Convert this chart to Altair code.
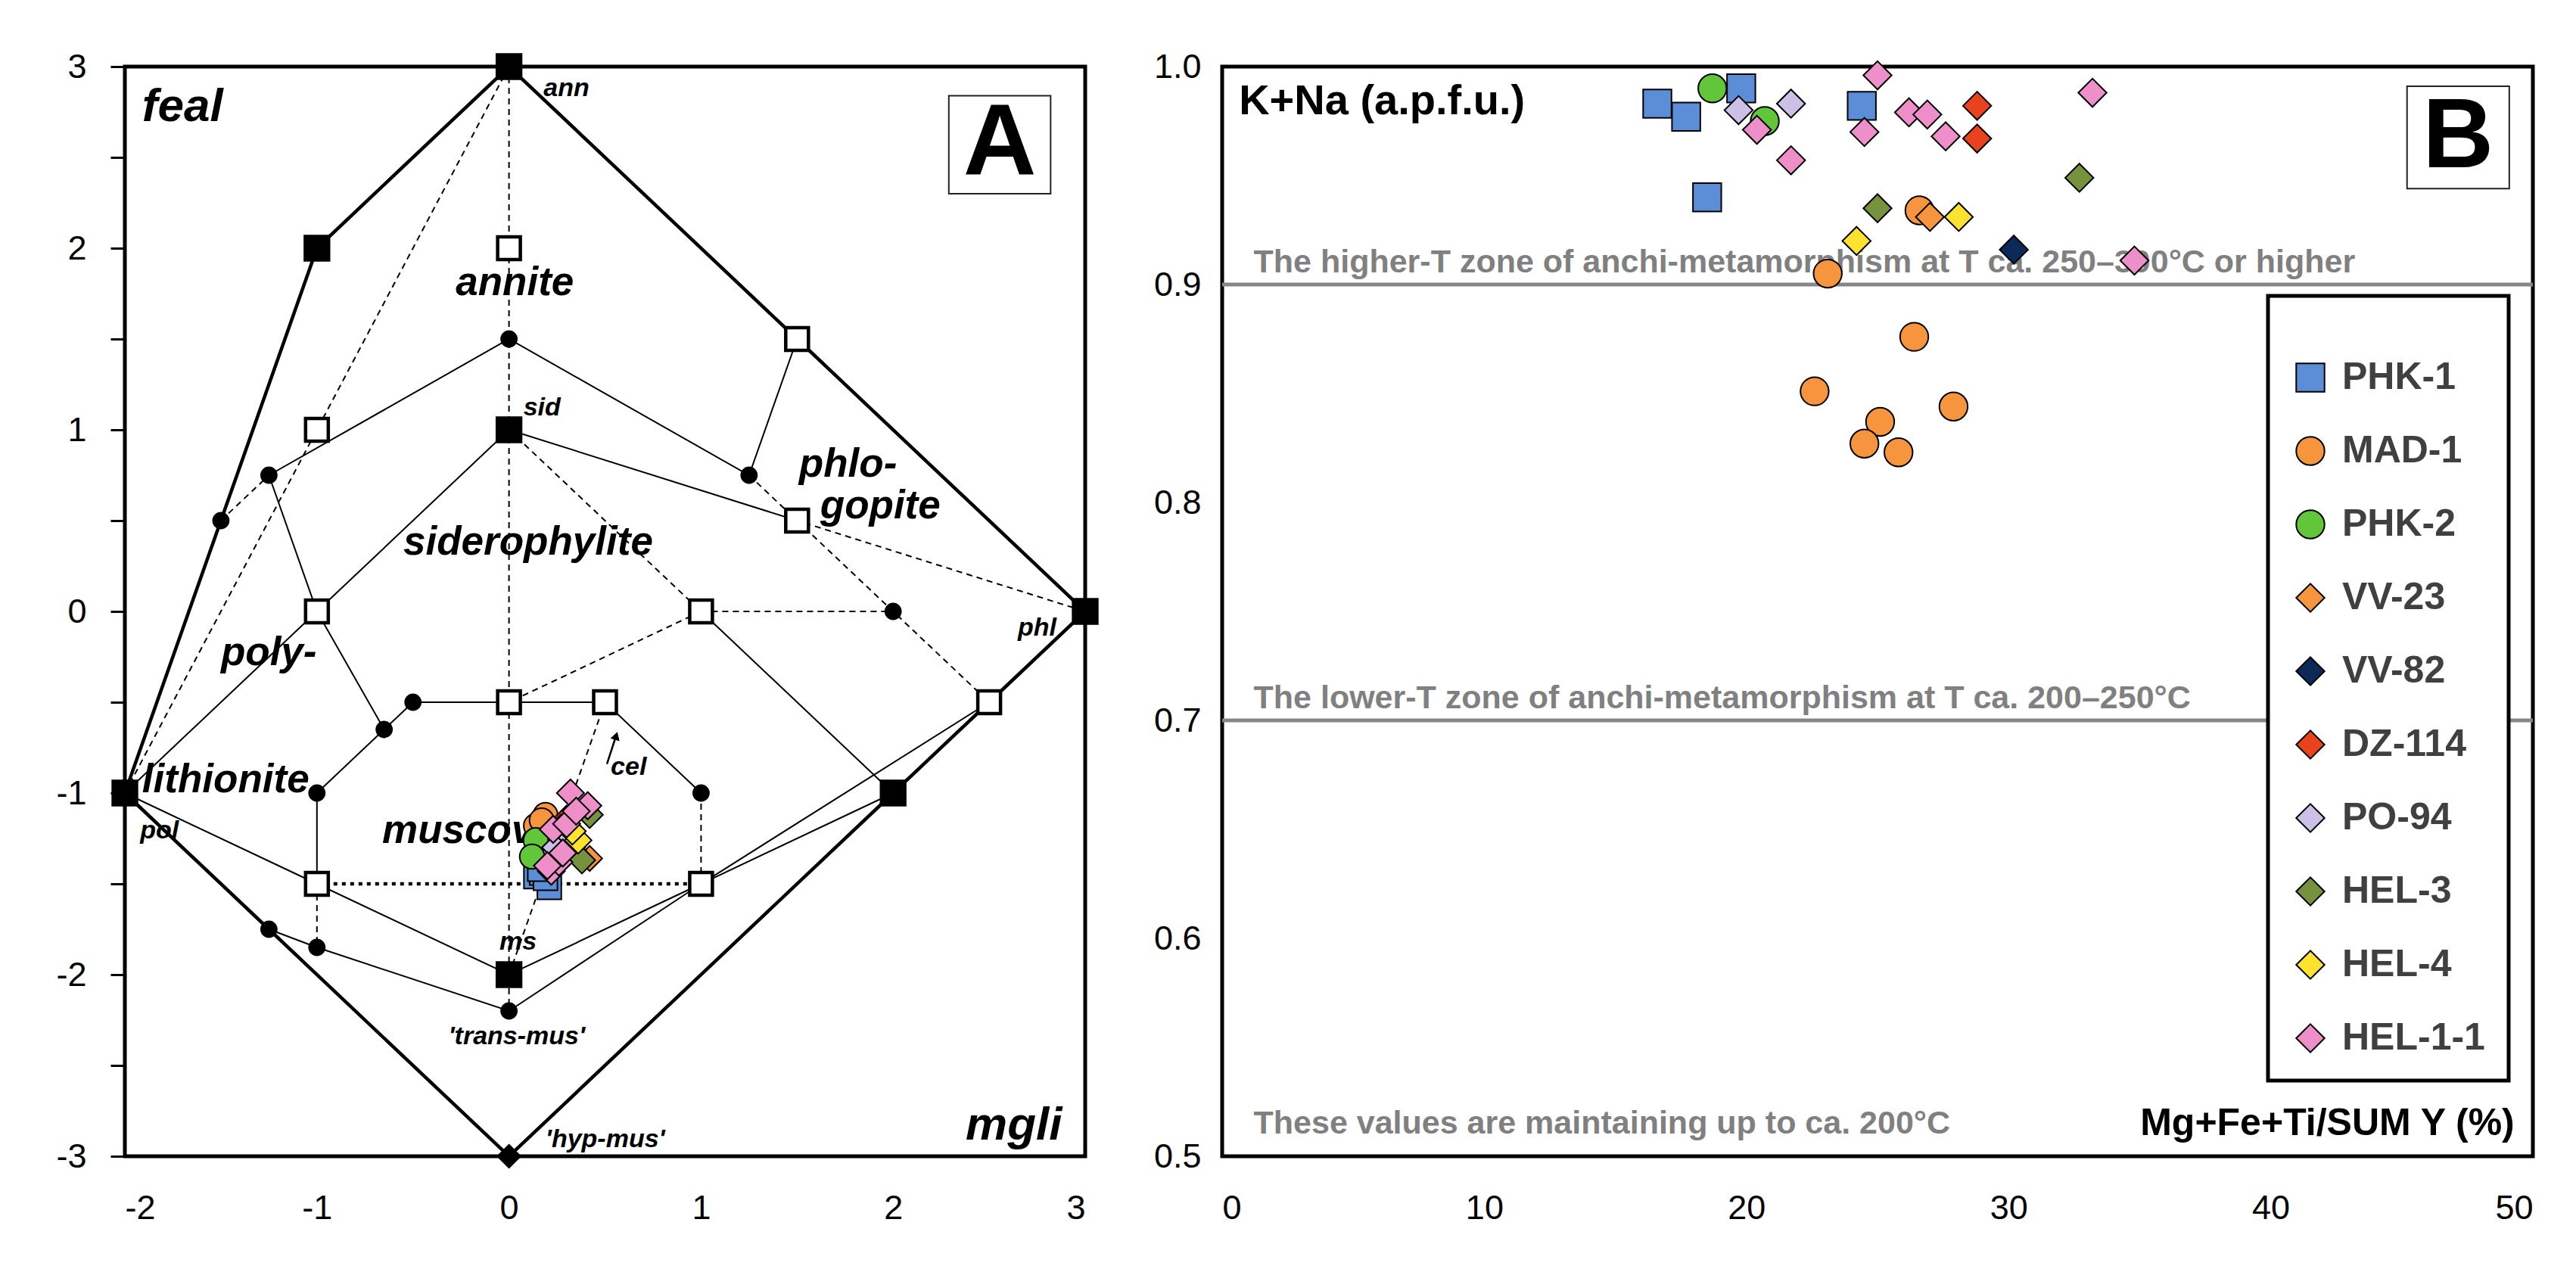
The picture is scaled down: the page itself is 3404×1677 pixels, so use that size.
import altair as alt
import pandas as pd

FONT = "Liberation Sans"

SERIES = ["PHK-1", "MAD-1", "PHK-2", "VV-23", "VV-82", "DZ-114", "PO-94", "HEL-3", "HEL-4", "HEL-1-1"]
COLORS = ["#5b8ed6", "#f7953f", "#62c63a", "#f7953f", "#0b2a57", "#e8431c", "#ccc0e6", "#76923c", "#fde32f", "#ef8fc9"]
SHAPES = ["square", "circle", "circle", "diamond", "diamond", "diamond", "diamond", "diamond", "diamond", "diamond"]
SIZE_B = [1400, 1400, 1400, 1800, 1800, 1800, 1800, 1800, 1800, 1800]
SIZE_A = [1000, 1300, 1300, 1100, 1100, 1100, 1100, 1100, 1100, 1100]

# ---------------- Panel B values ----------------
phk1_b_x = [16.6, 17.7, 18.5, 19.8, 24.4]
phk1_b_y = [0.983, 0.977, 0.940, 0.990, 0.982]
mad1_b_x = [23.1, 26.6, 26.4, 22.6, 27.9, 25.1, 24.5, 25.8]
mad1_b_y = [0.905, 0.934, 0.876, 0.851, 0.844, 0.837, 0.827, 0.823]
phk2_b_x = [18.7, 20.7]
phk2_b_y = [0.990, 0.975]
vv23_b_x = [27.0]
vv23_b_y = [0.931]
vv82_b_x = [30.2]
vv82_b_y = [0.916]
dz114_b_x = [28.8, 28.8]
dz114_b_y = [0.982, 0.967]
po94_b_x = [19.7, 21.7]
po94_b_y = [0.980, 0.983]
hel3_b_x = [25.0, 32.7]
hel3_b_y = [0.935, 0.949]
hel4_b_x = [28.1, 24.2]
hel4_b_y = [0.931, 0.920]
hel11_b_x = [20.4, 25.0, 24.5, 26.2, 26.9, 27.6, 21.7, 33.2, 34.8]
hel11_b_y = [0.971, 0.996, 0.970, 0.979, 0.978, 0.968, 0.957, 0.988, 0.911]

# ---------------- Panel A values ----------------
phk1_a_x = [0.14, 0.21, 0.17, 0.19, 0.16]
phk1_a_y = [-1.46, -1.52, -1.44, -1.47, -1.42]
mad1_a_x = [0.19, 0.26, 0.22, 0.14, 0.24, 0.20, 0.28, 0.17]
mad1_a_y = [-1.12, -1.27, -1.34, -1.18, -1.22, -1.30, -1.20, -1.15]
phk2_a_x = [0.14, 0.12]
phk2_a_y = [-1.26, -1.35]
vv23_a_x = [0.42]
vv23_a_y = [-1.36]
vv82_a_x = [0.33]
vv82_a_y = [-1.30]
dz114_a_x = [0.30, 0.27]
dz114_a_y = [-1.14, -1.19]
po94_a_x = [0.27, 0.24]
po94_a_y = [-1.24, -1.30]
hel3_a_x = [0.42, 0.38]
hel3_a_y = [-1.12, -1.37]
hel4_a_x = [0.36, 0.33]
hel4_a_y = [-1.26, -1.21]
hel11_a_x = [0.32, 0.41, 0.23, 0.22, 0.30, 0.26, 0.35, 0.28, 0.20]
hel11_a_y = [-1.00, -1.07, -1.20, -1.43, -1.17, -1.38, -1.10, -1.33, -1.40]

# diagram nodes
filled_sq = [(0, 3), (-1, 2), (0, 1), (3, 0), (-2, -1), (2, -1), (0, -2)]
open_sq = [(0, 2), (-1, 1), (1.5, 1.5), (1.5, 0.5), (-1, 0), (1, 0), (0, -0.5), (0.5, -0.5),
           (2.5, -0.5), (-1, -1.5), (1, -1.5)]
dots = [(0, 1.5), (-1.5, 0.5), (-1.25, 0.75), (1.25, 0.75), (2, 0), (-0.65, -0.65), (-0.5, -0.5),
        (-1, -1), (1, -1), (-1.25, -1.75), (-1, -1.85), (0, -2.2)]
diamond_node = [(0, -3)]

# diagram lines
thick_lines = [[(-2, -1), (-1.5, 0.5), (-1, 2), (0, 3), (1.5, 1.5), (3, 0), (2.5, -0.5), (2, -1),
                (0, -3), (-1.25, -1.75), (-2, -1)]]
thin_lines = [
    [(-1.25, 0.75), (0, 1.5), (1.25, 0.75), (1.5, 1.5)],
    [(0, 1), (1.5, 0.5)],
    [(1, 0), (2, -1)],
    [(0, 1), (-1, 0), (-0.65, -0.65), (-0.5, -0.5), (0, -0.5), (0.5, -0.5), (1, -1)],
    [(-1.25, 0.75), (-1, 0)],
    [(-2, -1), (-1, 0)],
    [(-0.65, -0.65), (-1, -1), (-1, -1.5)],
    [(-2, -1), (-1, -1.5), (0, -2), (1, -1.5), (2.5, -0.5)],
    [(-1.25, -1.75), (-1, -1.85), (0, -2.2), (1, -1.5), (2, -1)],
]
dashed_lines = [
    [(0, 3), (-2, -1)],
    [(0, 3), (0, -2.2)],
    [(-1.5, 0.5), (-1.25, 0.75)],
    [(1.25, 0.75), (1.5, 0.5), (3, 0)],
    [(1.5, 0.5), (2, 0), (2.5, -0.5)],
    [(1, 0), (2, 0)],
    [(0, 1), (1, 0), (0, -0.5)],
    [(0, -2), (0.5, -0.5)],
    [(1, -1), (1, -1.5)],
    [(-1, -1.5), (-1, -1.85)],
]
dotted_lines = [[(-1, -1.5), (1, -1.5)]]

# labels in panel A: (text, x, y)
labels_big_left = [("siderophylite", -0.55, 0.38), ("phlo-", 1.51, 0.81), ("gopite", 1.62, 0.58),
                   ("poly-", -1.50, -0.23), ("lithionite", -1.91, -0.93), ("muscovite", -0.66, -1.21)]
labels_big_center = [("annite", 0.03, 1.81)]
labels_corner_left = [("feal", -1.91, 2.78)]
labels_corner_right = [("mgli", 2.88, -2.83)]
labels_small_left = [("ann", 0.18, 2.88), ("sid", 0.075, 1.12), ("pol", -1.92, -1.21),
                     ("cel", 0.53, -0.86), ("ms", -0.05, -1.82), ("'hyp-mus'", 0.19, -2.91)]
labels_small_right = [("phl", 2.85, -0.09)]
labels_small_center = [("'trans-mus'", 0.04, -2.34)]
cel_arrow = [(0.51, -0.84, 0.553, -0.70)]
cel_head = [(0.558, -0.685)]
box_a = [(2.29, 2.82, 2.30, 2.84)]
box_a_letter = [("A", 2.555, 2.57)]

# panel B annotations
zone_lines = [0.9, 0.7]
zone_texts = [("The higher-T zone of anchi-metamorphism at T ca. 250–300°C or higher", 1.2, 0.9056),
              ("The lower-T zone of anchi-metamorphism at T ca. 200–250°C", 1.2, 0.7056)]
bottom_text = [("These values are maintaining up to ca. 200°C", 1.2, 0.515)]
y_title = [("K+Na (a.p.f.u.)", 0.64, 0.984)]
x_title = [("Mg+Fe+Ti/SUM Y (%)", 49.3, 0.515)]
box_b = [(45.2, 49.1, 0.944, 0.991)]
box_b_letter = [("B", 47.15, 0.9675)]

B_X = [phk1_b_x, mad1_b_x, phk2_b_x, vv23_b_x, vv82_b_x, dz114_b_x, po94_b_x, hel3_b_x, hel4_b_x, hel11_b_x]
B_Y = [phk1_b_y, mad1_b_y, phk2_b_y, vv23_b_y, vv82_b_y, dz114_b_y, po94_b_y, hel3_b_y, hel4_b_y, hel11_b_y]
A_X = [phk1_a_x, mad1_a_x, phk2_a_x, vv23_a_x, vv82_a_x, dz114_a_x, po94_a_x, hel3_a_x, hel4_a_x, hel11_a_x]
A_Y = [phk1_a_y, mad1_a_y, phk2_a_y, vv23_a_y, vv82_a_y, dz114_a_y, po94_a_y, hel3_a_y, hel4_a_y, hel11_a_y]


def series_df(xs, ys):
    rows = []
    for name, sx, sy in zip(SERIES, xs, ys):
        for x, y in zip(sx, sy):
            rows.append({"series": name, "x": x, "y": y})
    return pd.DataFrame(rows)


def lines_df(lines):
    rows = []
    for i, pts in enumerate(lines):
        for j, (x, y) in enumerate(pts):
            rows.append({"lid": i, "o": j, "x": x, "y": y})
    return pd.DataFrame(rows)


def pts_df(pts):
    return pd.DataFrame([{"x": x, "y": y} for x, y in pts])


def txt_df(items):
    return pd.DataFrame([{"t": t, "x": x, "y": y} for t, x, y in items])


# ---------------- Panel A ----------------
XA = alt.X("x:Q", scale=alt.Scale(domain=[-2, 3], nice=False, zero=False),
           axis=alt.Axis(values=[-2, -1, 0, 1, 2, 3], labelExpr="toString(datum.value)", ticks=False,
                         tickSize=0, domain=False, grid=False, labelFontSize=45, labelPadding=46,
                         title=None, labelOverlap=False))
YA = alt.Y("y:Q", scale=alt.Scale(domain=[-3, 3], nice=False, zero=False),
           axis=alt.Axis(values=[-3, -2.5, -2, -1.5, -1, -0.5, 0, 0.5, 1, 1.5, 2, 2.5, 3],
                         labelExpr="datum.value % 1 == 0 ? toString(datum.value) : ''",
                         tickSize=19, tickWidth=3, tickColor="black", domain=False, grid=False,
                         labelFontSize=45, labelPadding=32, title=None, labelOverlap=False))


def line_layer(lines, width, dash=None):
    kw = dict(color="black", strokeWidth=width)
    if dash:
        kw["strokeDash"] = dash
    return alt.Chart(lines_df(lines)).mark_line(**kw).encode(
        x=XA, y=YA, detail="lid:N", order="o:Q")


def text_layer(items, size, align, enc_x, enc_y, **kw):
    return alt.Chart(txt_df(items)).mark_text(
        font=FONT, fontSize=size, align=align, baseline=kw.pop("baseline", "middle"), **kw
    ).encode(x=enc_x, y=enc_y, text="t:N")


layersA = [
    line_layer(thick_lines, 4.5),
    line_layer(thin_lines, 2),
    line_layer(dashed_lines, 2, [8, 6]),
    line_layer(dotted_lines, 4.5, [5, 6]),
    alt.Chart(pts_df(open_sq)).mark_point(shape="square", filled=True, fill="white", stroke="black",
                                          strokeWidth=4.5, size=900, opacity=1).encode(x=XA, y=YA),
    alt.Chart(pts_df(filled_sq)).mark_point(shape="square", filled=True, color="black",
                                            size=1250, opacity=1).encode(x=XA, y=YA),
    alt.Chart(pts_df(dots)).mark_point(shape="circle", filled=True, color="black",
                                       size=520, opacity=1).encode(x=XA, y=YA),
    alt.Chart(pts_df(diamond_node)).mark_point(shape="diamond", filled=True, color="black",
                                               size=1100, opacity=1).encode(x=XA, y=YA),
    text_layer(labels_big_left, 53, "left", XA, YA, fontWeight="bold", fontStyle="italic", color="black"),
    text_layer(labels_big_center, 53, "center", XA, YA, fontWeight="bold", fontStyle="italic", color="black"),
    text_layer(labels_corner_left, 62, "left", XA, YA, fontWeight="bold", fontStyle="italic", color="black"),
    text_layer(labels_corner_right, 62, "right", XA, YA, fontWeight="bold", fontStyle="italic", color="black"),
    text_layer(labels_small_left, 34, "left", XA, YA, fontWeight="bold", fontStyle="italic", color="black"),
    text_layer(labels_small_right, 34, "right", XA, YA, fontWeight="bold", fontStyle="italic", color="black"),
    text_layer(labels_small_center, 34, "center", XA, YA, fontWeight="bold", fontStyle="italic", color="black"),
    alt.Chart(pd.DataFrame([{"x": a, "y": b, "x2": c, "y2": d} for a, b, c, d in cel_arrow])).mark_rule(
        color="black", strokeWidth=2.5).encode(x=XA, y=YA, x2="x2:Q", y2="y2:Q"),
    alt.Chart(pts_df(cel_head)).mark_point(shape="triangle-up", filled=True, color="black", size=160,
                                           angle=17, opacity=1).encode(x=XA, y=YA),
    alt.Chart(pd.DataFrame([{"x": a, "x2": b, "y": c, "y2": d} for a, b, c, d in box_a])).mark_rect(
        fill="white", stroke="#222222", strokeWidth=2).encode(x=XA, x2="x2:Q", y=YA, y2="y2:Q"),
    text_layer(box_a_letter, 134, "center", XA, YA, fontWeight="bold", color="black"),
    alt.Chart(series_df(A_X, A_Y)).mark_point(filled=True, stroke="black", strokeWidth=2, opacity=1).encode(
        x=XA, y=YA,
        color=alt.Color("series:N", scale=alt.Scale(domain=SERIES, range=COLORS), legend=None),
        shape=alt.Shape("series:N", scale=alt.Scale(domain=SERIES, range=SHAPES), legend=None),
        size=alt.Size("series:N", scale=alt.Scale(domain=SERIES, range=SIZE_A), legend=None),
    ),
]
chartA = alt.layer(*layersA).properties(width=1269, height=1440)

# ---------------- Panel B ----------------
XB = alt.X("x:Q", scale=alt.Scale(domain=[0, 50], nice=False, zero=False),
           axis=alt.Axis(values=[0, 10, 20, 30, 40, 50], ticks=False, tickSize=0, domain=False, grid=False,
                         labelFontSize=45, labelPadding=46, title=None, labelOverlap=False))
YB = alt.Y("y:Q", scale=alt.Scale(domain=[0.5, 1.0], nice=False, zero=False),
           axis=alt.Axis(values=[0.5, 0.6, 0.7, 0.8, 0.9, 1.0], format=".1f", ticks=False, tickSize=0,
                         domain=False, grid=False, labelFontSize=45, labelPadding=28, title=None,
                         labelOverlap=False))

legendB = alt.Legend(orient="none", legendX=1382, legendY=303, title=" ", titleFontSize=40,
                     titlePadding=12, padding=31, rowPadding=47,
                     symbolSize=1500, labelFontSize=50, labelFont=FONT, labelFontWeight="bold",
                     labelColor="#404040", labelOffset=17, symbolStrokeColor="black",
                     symbolStrokeWidth=2, fillColor="white", strokeColor="black", labelLimit=400)

layersB = [
    alt.Chart(pd.DataFrame({"y": zone_lines})).mark_rule(color="#878787", strokeWidth=5).encode(y=YB),
    text_layer(zone_texts, 43, "left", XB, YB, baseline="alphabetic", fontWeight="bold", color="#808080"),
    text_layer(bottom_text, 43, "left", XB, YB, fontWeight="bold", color="#808080"),
    text_layer(y_title, 56, "left", XB, YB, fontWeight="bold", color="black"),
    text_layer(x_title, 50, "right", XB, YB, fontWeight="bold", color="black"),
    alt.Chart(pd.DataFrame([{"x": a, "x2": b, "y": c, "y2": d} for a, b, c, d in box_b])).mark_rect(
        fill="white", stroke="#222222", strokeWidth=2).encode(x=XB, x2="x2:Q", y=YB, y2="y2:Q"),
    text_layer(box_b_letter, 130, "center", XB, YB, fontWeight="bold", color="black"),
    alt.Chart(series_df(B_X, B_Y)).mark_point(filled=True, stroke="black", strokeWidth=2, opacity=1).encode(
        x=XB, y=YB,
        color=alt.Color("series:N", scale=alt.Scale(domain=SERIES, range=COLORS), legend=legendB),
        shape=alt.Shape("series:N", scale=alt.Scale(domain=SERIES, range=SHAPES), legend=legendB),
        size=alt.Size("series:N", scale=alt.Scale(domain=SERIES, range=SIZE_B), legend=None),
    ),
]
chartB = alt.layer(*layersB).properties(width=1732, height=1440)

chart = alt.hconcat(chartA, chartB, spacing=66).resolve_scale(
    color="independent", shape="independent", size="independent"
).properties(
    padding={"left": 63, "top": 55, "right": 20, "bottom": 20}, background="white"
).configure_view(stroke="black", strokeWidth=5).configure_legend(strokeWidth=5).configure_axis(
    labelFont=FONT, labelColor="black"
)

chart.save("out.html", embed_options={"renderer": "svg", "actions": False})
